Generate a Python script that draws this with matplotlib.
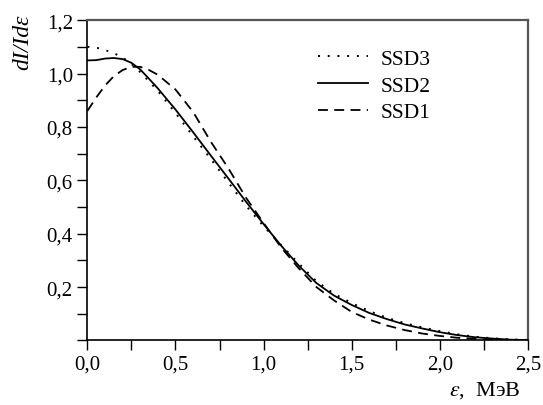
import matplotlib

matplotlib.use("Agg")
import matplotlib.pyplot as plt
from matplotlib.ticker import MultipleLocator, FuncFormatter

# energy grid, MeV
energy = [0.0, 0.05, 0.1, 0.15, 0.2, 0.25, 0.3, 0.35, 0.4, 0.5, 0.6, 0.7, 0.8,
          0.9, 1.0, 1.1, 1.2, 1.3, 1.4, 1.5, 1.6, 1.7, 1.8, 1.9, 2.0, 2.1,
          2.2, 2.3, 2.4, 2.5]

ssd3 = [1.100, 1.097, 1.088, 1.076, 1.060, 1.036, 1.005, 0.970, 0.935, 0.852,
        0.765, 0.680, 0.592, 0.505, 0.428, 0.357, 0.288, 0.222, 0.175, 0.140,
        0.110, 0.085, 0.065, 0.049, 0.035, 0.023, 0.014, 0.008, 0.004, 0.002]

ssd2 = [1.049, 1.050, 1.056, 1.058, 1.054, 1.040, 1.015, 0.980, 0.944, 0.865,
        0.780, 0.693, 0.607, 0.520, 0.436, 0.355, 0.280, 0.215, 0.168, 0.133,
        0.103, 0.080, 0.060, 0.045, 0.031, 0.020, 0.012, 0.007, 0.003, 0.001]

ssd1 = [0.860, 0.910, 0.955, 0.990, 1.013, 1.025, 1.025, 1.013, 0.995, 0.940,
        0.856, 0.745, 0.645, 0.535, 0.440, 0.348, 0.270, 0.200, 0.150, 0.107,
        0.078, 0.056, 0.039, 0.026, 0.017, 0.010, 0.006, 0.003, 0.001, 0.000]

plt.rcParams["font.family"] = ["Liberation Serif", "DejaVu Serif"]
plt.rcParams["mathtext.fontset"] = "stix"

fig = plt.figure(figsize=(5.43, 4.06), dpi=100)
ax = fig.add_axes([0.161, 0.159, 0.811, 0.789])

ax.plot(energy, ssd3, color="black", lw=1.4, ls=(0, (1, 4)), label="SSD3")
ax.plot(energy, ssd2, color="black", lw=1.3, ls="-", label="SSD2")
ax.plot(energy, ssd1, color="black", lw=1.3, ls=(0, (5.5, 3.5)), label="SSD1")

ax.set_xlim(0, 2.5)
ax.set_ylim(0, 1.2)
ax.xaxis.set_major_locator(MultipleLocator(0.5))
ax.xaxis.set_minor_locator(MultipleLocator(0.25))
ax.yaxis.set_major_locator(MultipleLocator(0.2))
ax.yaxis.set_minor_locator(MultipleLocator(0.1))

comma = FuncFormatter(lambda v, p: f"{v:.1f}".replace(".", ","))
ax.xaxis.set_major_formatter(comma)
ax.yaxis.set_major_formatter(
    FuncFormatter(lambda v, p: "" if abs(v) < 1e-9 else f"{v:.1f}".replace(".", ","))
)

ax.tick_params(which="both", direction="out", length=7, width=1,
               labelsize=15, top=False, right=False)
for s in ("left", "bottom"):
    ax.spines[s].set_linewidth(1.2)
for s in ("top", "right"):
    ax.spines[s].set_color("#555555")
    ax.spines[s].set_linewidth(1.6)

ax.legend(loc="upper left", bbox_to_anchor=(0.523, 0.91), frameon=False,
          fontsize=15.5, handlelength=2.35, handletextpad=0.55, labelspacing=0.3,
          borderpad=0, borderaxespad=0)

fig.text(0.042, 0.895, "dI/Idε", rotation=90, ha="center", va="center",
         fontsize=17, fontstyle="italic")
fig.text(0.958, 0.038, r"$\varepsilon$,  МэВ", ha="right", va="center",
         fontsize=16)

fig.savefig("out.png", dpi=100)
